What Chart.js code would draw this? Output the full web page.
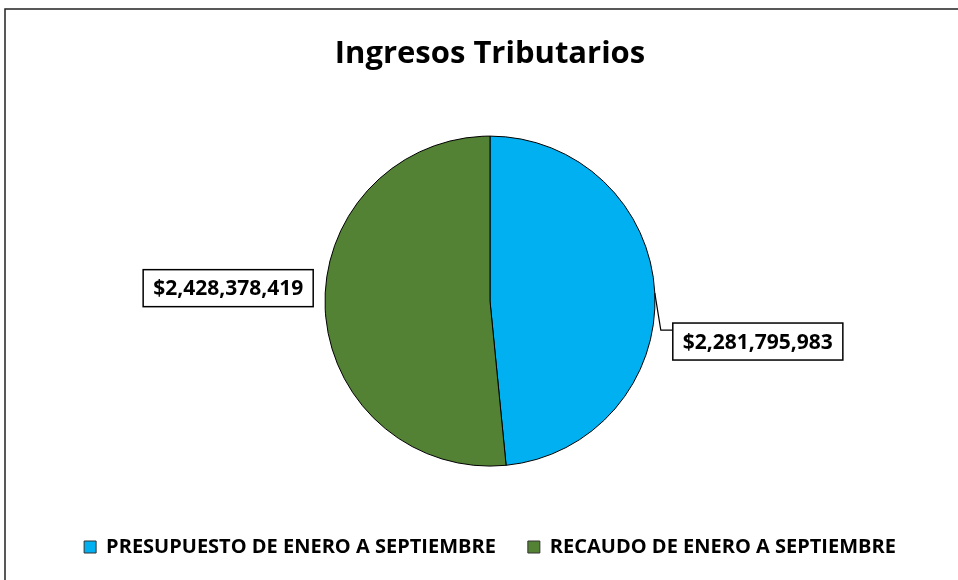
<!DOCTYPE html>
<html>
<head>
<meta charset="utf-8">
<script src="https://cdn.jsdelivr.net/npm/chart.js@4.4.0/dist/chart.umd.min.js"></script>
<style>
  html, body { margin: 0; padding: 0; background: #fff; }
  #wrap { width: 958px; height: 580px; }
</style>
</head>
<body>
<div id="wrap"><canvas id="ingresosChart"></canvas></div>
<script>
// Ingresos Tributarios - pie chart

const categories = ['PRESUPUESTO DE ENERO A SEPTIEMBRE', 'RECAUDO DE ENERO A SEPTIEMBRE'];
const values = [2281795983, 2428378419];
const sliceColors = ['#00B0F0', '#548235'];

const FONT = '"Open Sans", Lato, sans-serif';

function formatMoney(v) {
    return '$' + v.toLocaleString('en-US');
}

// outer frame of the chart object
const framePlugin = {
    id: 'frame',
    beforeDraw(chart) {
        const ctx = chart.ctx;
        ctx.save();
        ctx.fillStyle = '#fff';
        ctx.fillRect(0, 0, chart.width, chart.height);
        ctx.strokeStyle = '#222';
        ctx.lineWidth = 1.5;
        ctx.strokeRect(5, 9, chart.width + 10, chart.height + 10);
        ctx.restore();
    }
};

// boxed value labels, like excel data labels
const valueLabelPlugin = {
    id: 'valueLabels',
    afterDatasetsDraw(chart) {
        const ctx = chart.ctx;
        const meta = chart.getDatasetMeta(0);
        ctx.save();
        ctx.font = 'bold 21px ' + FONT;
        ctx.textBaseline = 'middle';
        ctx.textAlign = 'center';
        meta.data.forEach((arc, i) => {
            const mid = (arc.startAngle + arc.endAngle) / 2;
            const ax = arc.x + Math.cos(mid) * arc.outerRadius;
            const ay = arc.y + Math.sin(mid) * arc.outerRadius;
            const text = formatMoney(values[i]);
            const w = ctx.measureText(text).width + 20;
            const h = 37;
            let bx, by;
            if (Math.cos(mid) >= 0) {
                bx = ax + 18;
                by = ay + 30;
                ctx.strokeStyle = '#000';
                ctx.lineWidth = 1.2;
                ctx.beginPath();
                ctx.moveTo(ax, ay);
                ctx.lineTo(ax + 6, by + 7);
                ctx.lineTo(bx, by + 7);
                ctx.stroke();
            } else {
                bx = ax - 12 - w;
                by = ay - 21 - h / 2;
            }
            ctx.fillStyle = '#fff';
            ctx.fillRect(bx, by, w, h);
            ctx.strokeStyle = '#000';
            ctx.lineWidth = 1.5;
            ctx.strokeRect(bx, by, w, h);
            ctx.fillStyle = '#000';
            ctx.fillText(text, bx + w / 2, by + h / 2 + 1);
        });
        ctx.restore();
    }
};

const ingresosChart = new Chart(document.getElementById('ingresosChart'), {
    type: 'pie',
    data: {
        labels: categories,
        datasets: [{
            data: values,
            backgroundColor: sliceColors,
            borderColor: '#000',
            borderWidth: 1,
            radius: 165
        }]
    },
    options: {
        responsive: true,
        maintainAspectRatio: false,
        animation: false,
        layout: {
            padding: { left: 22, right: 0, top: 0, bottom: 13 }
        },
        plugins: {
            title: {
                display: true,
                text: 'Ingresos Tributarios',
                color: '#000',
                font: { family: FONT, size: 31, weight: 'bold' },
                padding: { top: 36, bottom: 24 }
            },
            legend: {
                position: 'bottom',
                labels: {
                    color: '#000',
                    font: { family: FONT, size: 20, weight: 'bold' },
                    boxWidth: 12,
                    boxHeight: 12,
                    padding: 32,
                    generateLabels(chart) {
                        return categories.map((c, i) => ({
                            text: c,
                            fillStyle: sliceColors[i],
                            strokeStyle: '#333',
                            lineWidth: 1,
                            index: i,
                            datasetIndex: 0
                        }));
                    }
                }
            },
            tooltip: { enabled: false }
        }
    },
    plugins: [framePlugin, valueLabelPlugin]
});
</script>
</body>
</html>
